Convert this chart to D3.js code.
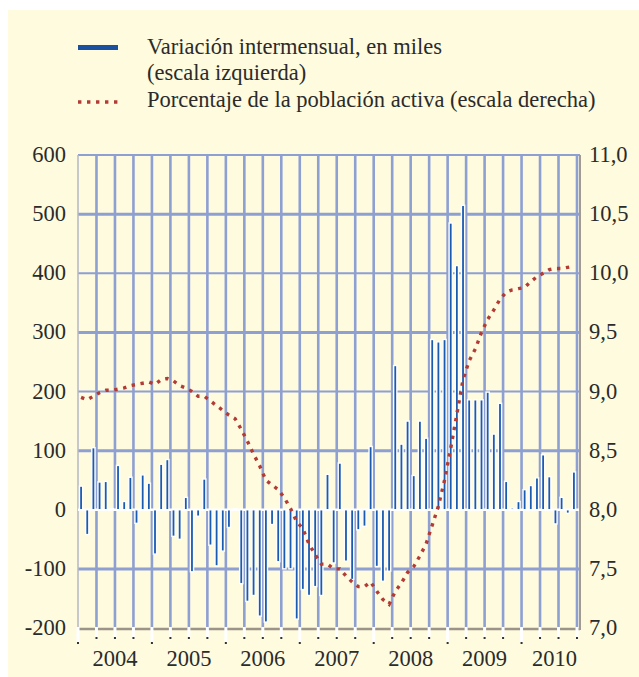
<!DOCTYPE html>
<html lang="es">
<head>
<meta charset="UTF-8">
<script src="https://cdn.jsdelivr.net/npm/d3@7/dist/d3.min.js"></script>
<title>Paro registrado</title>
<style>
    body { margin: 0; background: #fff; }
    svg { display: block; }
    text { font-family: "Liberation Serif", "Times New Roman", serif; fill: #2b2b2b; }
</style>
</head>
<body>
<script>
// datos mensuales, enero 2004 - septiembre 2010
let years = ["2004", "2005", "2006", "2007", "2008", "2009", "2010"]
let variacion = [
    40, -42, 105, 47, 48, 2, 75, 14, 55, -23, 59, 45,
    -75, 77, 85, -45, -50, 21, -105, -11, 52, -60, -95, -70,
    -30, 2, -125, -155, -145, -180, -190, -25, -88, -100, -100, -185,
    -135, -145, -130, -145, 60, -90, 79, -87, -118, -34, -28, 107,
    -96, -121, -104, 244, 111, 150, 58, 150, 121, 288, 284, 288,
    485, 413, 515, 186, 186, 186, 199, 128, 180, 48, 3, 14,
    34, 41, 54, 93, 56, -24, 21, -6, 64
]
let tasa = [
    8.95, 8.93, 8.96, 8.99, 9.01, 9.01, 9.02, 9.03, 9.05, 9.06, 9.07, 9.08,
    9.06, 9.10, 9.11, 9.09, 9.05, 9.03, 9.00, 8.96, 8.96, 8.92, 8.88, 8.84,
    8.80, 8.77, 8.68, 8.58, 8.47, 8.37, 8.25, 8.21, 8.17, 8.10, 8.01, 7.90,
    7.84, 7.71, 7.62, 7.54, 7.54, 7.50, 7.50, 7.44, 7.39, 7.35, 7.35, 7.39,
    7.31, 7.24, 7.20, 7.31, 7.38, 7.47, 7.52, 7.61, 7.71, 7.87, 8.03, 8.25,
    8.52, 8.81, 9.10, 9.26, 9.36, 9.50, 9.61, 9.69, 9.78, 9.84, 9.86, 9.87,
    9.88, 9.93, 9.97, 10.00, 10.03, 10.04, 10.04, 10.05, 10.06
]
let leftTicks = [-200, -100, 0, 100, 200, 300, 400, 500, 600]
let rightTicks = [7.0, 7.5, 8.0, 8.5, 9.0, 9.5, 10.0, 10.5, 11.0]
let legendBars = ["Variación intermensual, en miles", "(escala izquierda)"]
let legendLine = "Porcentaje de la población activa (escala derecha)"

let width = 639
let height = 677
let x0 = 78, x1 = 577, yTop = 155, yBottom = 628
let grid = "#8e9fd2"
let barBlue = "#1a5bb0"
let dotRed = "#b23b35"
let fontSize = 22.5

let svg = d3.select("body").append("svg")
    .attr("width", width)
    .attr("height", height)

svg.append("rect")
    .attr("x", 8).attr("y", 10)
    .attr("width", width - 8).attr("height", height - 10)
    .attr("fill", "#fefbdf")

let months = d3.range(variacion.length)
let x = d3.scaleBand().domain(months).range([x0, x1])
let yL = d3.scaleLinear().domain([-200, 600]).range([yBottom, yTop])
let yR = d3.scaleLinear().domain([7, 11]).range([yBottom, yTop])
let step = x.step()

// rejilla
let quarters = d3.range(0, variacion.length + 1, 3)
svg.append("g").selectAll("line")
    .data(quarters.slice(1))
    .join("line")
    .attr("x1", d => x0 + d * step).attr("x2", d => x0 + d * step)
    .attr("y1", yTop).attr("y2", yBottom)
    .attr("stroke", grid)
    .attr("stroke-width", 2.6)

svg.append("g").selectAll("line")
    .data(leftTicks.filter(d => d > -200 && d != 0))
    .join("line")
    .attr("x1", x0).attr("x2", x1 + 3)
    .attr("y1", d => yL(d)).attr("y2", d => yL(d))
    .attr("stroke", grid)
    .attr("stroke-width", d => (d / 100) % 2 ? 3 : 1.8)

svg.append("line")
    .attr("x1", x0).attr("x2", x0)
    .attr("y1", yTop).attr("y2", yBottom)
    .attr("stroke", "#b4b7c6").attr("stroke-width", 1.5)

svg.append("line")
    .attr("x1", x0).attr("x2", x1 + 3)
    .attr("y1", yL(0)).attr("y2", yL(0))
    .attr("stroke", "#fff").attr("stroke-width", 2.4)

// barras
svg.append("g").selectAll("rect")
    .data(variacion)
    .join("rect")
    .attr("x", (d, i) => x(i) + step / 2 - 1.6)
    .attr("width", 3.2)
    .attr("y", d => yL(Math.max(0, d)))
    .attr("height", d => Math.abs(yL(d) - yL(0)))
    .attr("fill", barBlue)
    .attr("stroke", "#fff")
    .attr("stroke-width", 1.4)

// tasa de paro
let line = d3.line()
    .x((d, i) => x(i) + step / 2)
    .y(d => yR(d))

svg.append("path")
    .attr("d", line(tasa))
    .attr("fill", "none")
    .attr("stroke", dotRed)
    .attr("stroke-width", 3.4)
    .attr("stroke-dasharray", "3.4,5.6")

// ejes
svg.append("line")
    .attr("x1", x0).attr("x2", x1 + 3)
    .attr("y1", yBottom + 1).attr("y2", yBottom + 1)
    .attr("stroke", "#9c9488").attr("stroke-width", 2.5)

svg.append("line")
    .attr("x1", x1 + 3).attr("x2", x1 + 3)
    .attr("y1", yTop).attr("y2", yBottom + 2)
    .attr("stroke", "#a29b92").attr("stroke-width", 2)

let ticks = svg.append("g").selectAll("g")
    .data(quarters)
    .join("g")
    .attr("transform", d => `translate(${x0 + d * step},0)`)
ticks.append("rect")
    .attr("x", -1.5).attr("width", 3)
    .attr("y", yBottom - 1)
    .attr("height", d => d % 12 ? 10 : 15)
    .attr("fill", "#fff")
ticks.append("rect")
    .attr("x", -1).attr("width", 2)
    .attr("y", d => yBottom + (d % 12 ? 9 : 14))
    .attr("height", 2)
    .attr("fill", "#333")

svg.append("g").selectAll("text")
    .data(leftTicks)
    .join("text")
    .attr("x", 66)
    .attr("y", d => yL(d) + 7)
    .attr("text-anchor", "end")
    .attr("font-size", fontSize)
    .text(d => d)

svg.append("g").selectAll("text")
    .data(rightTicks)
    .join("text")
    .attr("x", 589)
    .attr("y", d => yR(d) + 7)
    .attr("font-size", fontSize)
    .text(d => d3.format(".1f")(d).replace(".", ","))

let yearLabels = svg.append("g").selectAll("text")
    .data(years)
    .join("text")
    .attr("y", 666)
    .attr("text-anchor", "middle")
    .attr("font-size", fontSize)
    .text(d => d)
yearLabels.attr("x", function (d, i) {
    let mid = x0 + (i * 12 + 6) * step
    let half = this.getComputedTextLength() / 2
    return Math.min(mid, x1 - half)
})

// leyenda
let legend = svg.append("g")
legend.append("rect")
    .attr("x", 78).attr("y", 45)
    .attr("width", 40).attr("height", 5)
    .attr("fill", "#1b4f9f")
legend.append("line")
    .attr("x1", 78).attr("x2", 122)
    .attr("y1", 102).attr("y2", 102)
    .attr("stroke", dotRed)
    .attr("stroke-width", 3.4)
    .attr("stroke-dasharray", "3.4,5.6")
legend.selectAll("text.bar")
    .data(legendBars)
    .join("text")
    .attr("class", "bar")
    .attr("x", 147)
    .attr("y", (d, i) => 54 + i * 26)
    .attr("font-size", fontSize)
    .text(d => d)
legend.append("text")
    .attr("x", 147).attr("y", 107)
    .attr("font-size", fontSize)
    .text(legendLine)
</script>
</body>
</html>
